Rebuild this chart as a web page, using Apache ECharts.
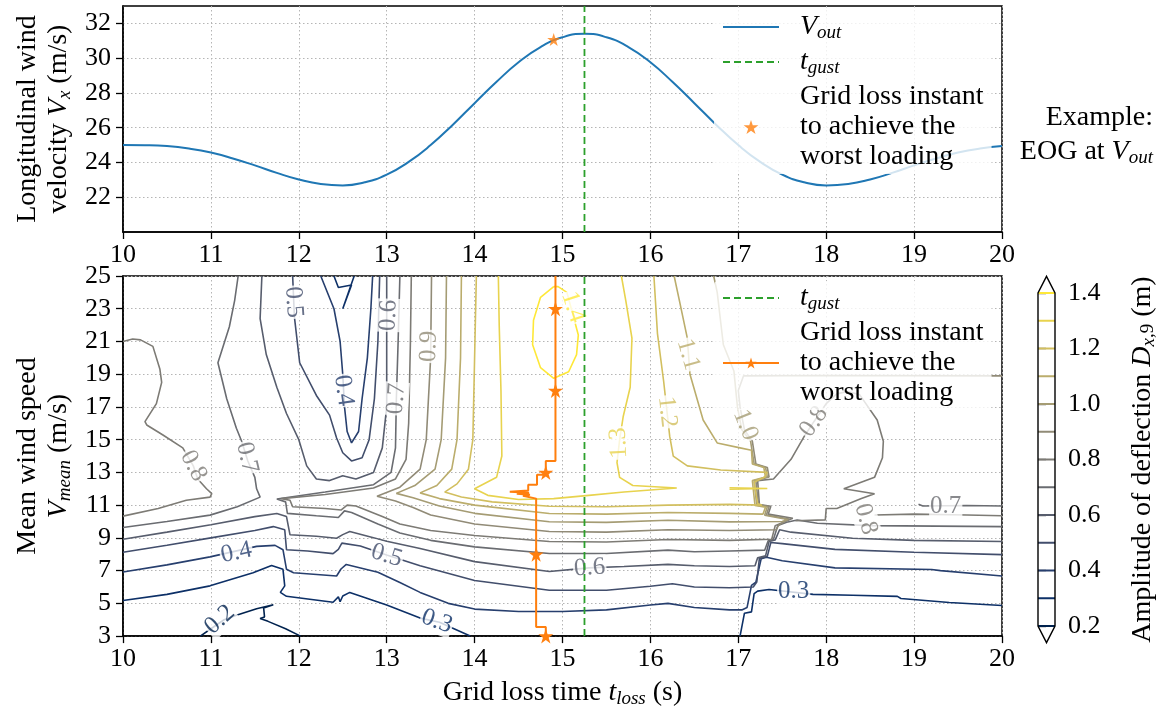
<!DOCTYPE html>
<html><head><meta charset="utf-8">
<script src="https://cdn.jsdelivr.net/npm/echarts@6/dist/echarts.min.js"></script>
<style>html,body{margin:0;padding:0;background:#fff;}#c{width:1170px;height:713px;}</style>
</head><body><div id="c"></div>
<script>
// ---------- DATA ----------
const tTime = [10,10.25,10.5,10.75,11,11.25,11.5,11.75,12,12.25,12.5,12.75,13,13.25,13.5,13.75,14,14.25,14.5,14.75,15,15.25,15.5,15.75,16,16.25,16.5,16.75,17,17.25,17.5,17.75,18,18.25,18.5,18.75,19,19.25,19.5,19.75,20];
const vOut = [25.0,24.99,24.94,24.80,24.57,24.23,23.83,23.40,23.02,22.76,22.68,22.86,23.30,24.03,25.0,26.16,27.41,28.64,29.76,30.64,31.20,31.40,31.20,30.64,29.76,28.64,27.41,26.16,25.0,24.03,23.30,22.86,22.68,22.76,23.02,23.40,23.83,24.23,24.57,24.80,24.94];
const topYTicks = [22,24,26,28,30,32];
const tGust = 15.25;
const worstTop = [[14.9, 31.07]];

const levels = [0.2,0.3,0.4,0.5,0.6,0.7,0.8,0.9,1.0,1.1,1.2,1.3,1.4];
const levelColors = ['#00224e','#0d3067','#273f6e','#424e6c','#575d6d','#6a6c71','#7d7b75','#918b77','#a59c74','#bbad6c','#d2bf5f','#e8d34e','#fee838'];

const L02a = [[10.88,3.0],[11.0,3.45],[11.15,4.0],[11.29,4.27],[11.52,4.67],[11.71,4.91],[11.6,4.72],[11.61,4.17],[11.56,4.07],[11.65,3.9],[11.85,3.45],[12.02,3.0]];
const L03a = [[10,5.17],[10.5,5.55],[10.99,6.07],[11.48,6.87],[11.69,7.32],[11.82,7.08],[11.84,6.07],[11.79,5.67],[11.86,5.43],[12.39,5.07],[12.45,5.4],[12.47,5.1],[12.5,5.45],[12.58,5.67],[13.0,4.9],[13.38,4.1],[13.6,3.85],[13.95,3.0]];
const L03b = [[17.02,3.0],[17.07,4.4],[17.15,4.48],[17.18,5.6],[17.22,5.75],[17.35,5.85],[17.85,5.55],[18.3,5.5],[18.81,5.43],[18.85,5.3],[19.4,5.05],[20,4.87]];
const L03c = [[12.4,25],[12.45,24.3],[12.6,24.45],[12.5,23.0],[12.63,25]];
const L04a = [[10,6.92],[10.5,7.35],[10.99,7.84],[11.52,8.48],[11.73,8.54],[11.82,8.28],[11.86,7.08],[11.94,6.87],[12.43,6.67],[12.48,7.1],[12.54,7.38],[12.9,6.9],[13.15,6.27],[13.38,5.67],[13.7,5.0],[14.0,4.65],[14.5,4.5],[15.0,4.5],[15.5,4.6],[16.0,4.9],[16.2,5.0],[16.5,4.75],[16.9,4.6],[17.04,4.6],[17.1,4.75],[17.15,6.1],[17.2,6.3],[17.26,7.72],[17.32,7.82],[17.5,7.6],[18.1,7.17],[19.2,7.07],[19.3,7.0],[20,6.67]];
const L04b = [[12.25,25],[12.4,23],[12.47,21],[12.5,19],[12.52,17],[12.55,15.5],[12.6,14.8],[12.68,15.5],[12.72,17.5],[12.78,20],[12.82,23],[12.84,25]];
const L05a = [[10,8.12],[10.5,8.55],[11.0,9.0],[11.5,9.45],[11.71,9.69],[11.84,9.5],[11.86,8.28],[12.1,8.2],[12.39,8.04],[12.45,8.3],[12.49,8.68],[12.7,8.5],[13.0,7.95],[13.38,7.3],[14.0,6.4],[14.85,5.8],[15.5,5.8],[16.0,6.05],[16.25,6.2],[16.5,6.0],[16.9,5.95],[17.17,6.0],[17.21,6.3],[17.24,7.75],[17.33,7.87],[17.37,8.72],[17.5,8.65],[18.1,8.3],[19.0,8.12],[20,7.98]];
const L05b = [[11.93,25],[11.95,22.5],[12.01,19.7],[12.2,17.7],[12.35,16.5],[12.43,15.1],[12.5,14.2],[12.6,13.7],[12.72,13.9],[12.8,15],[12.86,17.5],[12.9,21],[12.92,25]];
const L06a = [[10,8.92],[10.5,9.35],[11.0,9.8],[11.5,10.3],[11.75,10.49],[11.86,10.3],[11.9,9.19],[12.2,9.1],[12.43,8.98],[12.5,9.2],[12.58,9.39],[13.0,8.8],[13.38,8.35],[14.0,7.55],[14.85,6.95],[15.3,7.17],[15.7,7.25],[16.2,7.38],[16.5,7.3],[16.9,7.25],[17.19,7.3],[17.22,7.78],[17.31,7.9],[17.35,8.78],[17.42,8.88],[17.47,9.5],[17.6,9.35],[18.3,8.98],[19.0,8.85],[20,8.78]];
const L06b = [[11.58,25],[11.56,22.4],[11.63,20.2],[11.75,18.2],[11.86,16.6],[12.0,15.0],[12.09,13.4],[12.2,12.6],[12.35,12.5],[12.5,12.8],[12.65,12.6],[12.85,13.0],[12.95,14.5],[13.0,17],[13.0,21],[13.0,25]];
const L07a = [[10,9.63],[10.5,10.0],[10.99,10.39],[11.3,10.9],[11.56,11.49],[11.52,12.0],[11.5,12.7],[11.42,13.7],[11.35,14.9],[11.29,15.7],[11.18,17.5],[11.08,19.7],[11.21,21.9],[11.27,23.5],[11.31,25]];
const L07b = [[13.15,25],[13.13,21],[13.11,17.5],[13.1,14.5],[13.05,13.0],[12.85,12.25],[12.3,11.8],[11.75,11.38],[11.85,11.2],[11.87,10.5],[12.2,10.35],[12.45,10.25],[12.52,10.65],[12.6,10.55],[12.9,9.85],[13.15,9.3],[13.5,8.85],[14.0,8.45],[14.85,8.05],[15.5,8.05],[16.2,8.25],[16.5,8.15],[16.9,8.2],[17.3,8.25],[17.34,8.82],[17.4,8.92],[17.45,9.75],[17.55,9.95],[17.67,10.09],[17.9,9.89],[18.5,9.75],[20,9.69]];
const L07c = [[19.05,11.05],[19.1,10.95],[19.6,10.98],[20,10.95]];
const L08a = [[10,10.33],[10.4,10.8],[10.72,11.3],[10.99,11.49],[11.01,11.7],[10.95,12.0],[10.85,12.6],[10.8,13.4],[10.68,14.5],[10.45,15.3],[10.27,15.9],[10.25,16.1],[10.38,17.2],[10.44,18.5],[10.42,19.3],[10.34,20.7],[10.2,21.1],[10.11,21.15],[10,21.0]];
const L08b = [[13.28,25],[13.27,21],[13.25,16],[13.22,13.8],[13.1,12.6],[12.85,12.05],[12.3,11.65],[11.8,11.4],[11.9,11.3],[11.93,10.9],[12.3,10.8],[12.48,10.7],[12.55,11.0],[12.65,10.95],[12.95,10.3],[13.15,9.85],[13.5,9.45],[14.0,9.15],[14.85,8.78],[15.5,8.75],[16.2,8.9],[16.9,8.85],[17.38,8.92],[17.42,9.75],[17.62,10.2],[17.34,10.45],[17.37,10.93],[17.24,11.03],[17.22,12.5],[17.4,12.6],[17.6,13.8],[17.75,15.2],[17.86,16.1],[18.0,17.2],[18.12,17.8],[18.25,17.95],[18.38,17.75],[18.58,16.2],[18.65,14.9],[18.64,13.9],[18.55,12.7],[18.2,12.0],[18.55,11.7],[18.4,11.4],[18.12,10.8],[18.0,10.8],[17.99,10.1],[17.65,10.05]];
const L08c = [[18.55,10.4],[19.0,10.45],[19.6,10.4],[20,10.35]];
const L09 = [[13.51,25],[13.5,20],[13.45,15],[13.38,13.2],[13.15,12.1],[12.89,11.55],[13.1,11.25],[13.3,10.85],[13.5,10.4],[14.0,9.85],[14.85,9.39],[15.5,9.35],[16.2,9.5],[16.9,9.45],[17.43,9.5],[17.46,9.78],[17.58,10.15],[17.32,10.4],[17.35,10.92],[17.23,11.02],[17.2,12.5],[17.35,12.72],[17.33,13.3],[17.2,13.52],[17.16,14.9],[17.07,15.6],[17.02,17.0],[17.0,18.0],[17.06,18.9],[18.0,18.92],[20,18.9]];
const L10 = [[13.68,25],[13.67,20],[13.62,15],[13.55,13.2],[13.32,12.2],[13.11,11.72],[13.3,11.45],[13.6,10.95],[14.0,10.5],[14.85,9.99],[15.5,9.95],[16.2,10.08],[16.9,9.98],[17.5,10.0],[17.56,10.12],[17.3,10.38],[17.33,10.9],[17.21,11.0],[17.18,12.5],[17.33,12.72],[17.31,13.3],[17.18,13.52],[17.14,14.9],[17.04,15.6],[16.99,17.0],[16.95,19.2],[16.83,20.8],[16.76,24.0],[16.72,25]];
const L11 = [[13.85,25],[13.84,20],[13.8,15],[13.74,13.2],[13.57,12.2],[13.38,11.75],[13.6,11.4],[14.0,11.0],[14.85,10.49],[15.5,10.45],[16.2,10.55],[16.9,10.5],[17.28,10.45],[17.31,10.88],[17.19,10.98],[17.16,12.5],[17.31,12.72],[17.29,13.3],[17.16,13.52],[17.15,14.35],[17.02,14.5],[16.76,14.8],[16.6,16.2],[16.45,19.0],[16.42,21.2],[16.33,23.5],[16.27,25]];
const L12 = [[14.02,25],[14.0,20],[13.98,15],[13.93,13.2],[13.8,12.3],[13.66,11.8],[13.85,11.5],[14.2,11.2],[14.85,10.93],[15.5,10.9],[16.2,11.0],[16.9,11.05],[17.27,11.0],[17.22,11.1],[17.18,12.4],[17.3,12.72],[17.33,13.0],[16.8,13.15],[16.42,13.4],[16.26,14.0],[16.22,15.2],[16.15,18.6],[16.08,21.5],[16.04,25]];
const L13a = [[14.27,25],[14.28,22],[14.3,18],[14.31,14],[14.25,12.7],[14.0,12.0],[14.15,11.6],[14.5,11.35],[14.9,11.4],[15.3,11.6],[15.7,11.8],[16.3,12.05],[15.8,12.2],[15.65,12.7],[15.62,13.6],[15.65,15.0],[15.69,16.4],[15.77,18.2],[15.79,21.2],[15.72,23.5],[15.67,25]];
const L13b = [[16.9,12.06],[17.33,12.02],[16.9,11.98]];
const L14 = [[14.9,24.35],[14.75,23.7],[14.67,22.3],[14.66,20.8],[14.75,19.4],[14.9,18.75],[15.07,19.15],[15.16,20.2],[15.18,21.4],[15.12,22.6],[15.05,24.0],[14.95,24.35],[14.9,24.35]];

const contourSegs = [
  [0.2,L02a],[0.3,L03a],[0.3,L03b],[0.3,L03c],[0.4,L04a],[0.4,L04b],[0.5,L05a],[0.5,L05b],
  [0.6,L06a],[0.6,L06b],[0.7,L07a],[0.7,L07b],[0.7,L07c],[0.8,L08a],[0.8,L08b],[0.8,L08c],
  [0.9,L09],[1.0,L10],[1.1,L11],[1.2,L12],[1.3,L13a],[1.3,L13b],[1.4,L14]
];
// [t, V, text, rotation, level]
const contourLabels = [
  [11.1,4.0,'0.2',42,0.2],[13.57,3.9,'0.3',-20,0.3],[17.63,5.72,'0.3',0,0.3],
  [11.29,8.1,'0.4',12,0.4],[12.51,18.0,'0.4',-82,0.4],[13.0,7.92,'0.5',-17,0.5],
  [11.94,23.4,'0.5',-86,0.5],[15.31,7.17,'0.6',4,0.6],[13.02,22.6,'0.6',88,0.6],
  [11.41,13.9,'0.7',-77,0.7],[13.11,17.5,'0.7',86,0.7],[19.36,10.9,'0.7',0,0.7],
  [10.8,13.4,'0.8',-62,0.8],[17.86,16.1,'0.8',55,0.8],[18.45,10.15,'0.8',-75,0.8],
  [13.48,20.7,'0.9',88,0.9],[17.08,15.9,'1.0',-68,1.0],[16.43,20.2,'1.1',-74,1.1],
  [16.19,16.7,'1.2',-84,1.2],[15.64,14.8,'1.3',93,1.3],[15.12,23.1,'1.4',-72,1.4]
];
const gridLossPath = [[14.81,3.0],[14.81,3.56],[14.70,3.56],[14.70,8.0],[14.70,11.4],[14.72,11.5],[14.55,11.57],[14.63,11.63],[14.48,11.7],[14.62,11.76],[14.4,11.82],[14.61,11.9],[14.61,12.25],[14.71,12.25],[14.71,12.85],[14.81,12.85],[14.81,13.0],[14.81,13.7],[14.92,13.7],[14.92,18.0],[14.92,23.0],[14.92,25.0]];
const starV = [3,8,13,18,23];
const vMeanRange = [3, 25];
const topVRange = [20, 33];

// ---------- BUILD ----------
const FONT = "'Liberation Serif','DejaVu Serif',serif";
const TXT = 28;
const Y0 = vMeanRange[0];
const STAR = 'path://M0,-1L0.2245,-0.309L0.951,-0.309L0.363,0.118L0.588,0.809L0,0.382L-0.588,0.809L-0.363,0.118L-0.951,-0.309L-0.2245,-0.309Z';
const colorOf = lev => levelColors[Math.round((lev - levels[0]) * 10)];
const sh = pts => pts.map(p => [p[0], p[1] - Y0]);
const RICH = {
  i: {fontStyle:'italic', fontFamily:FONT, fontSize:TXT},
  s: {fontStyle:'italic', fontFamily:FONT, fontSize:19, verticalAlign:'bottom', lineHeight:14},
  s2: {fontFamily:FONT, fontSize:19, verticalAlign:'bottom', lineHeight:14},
  sp: {width:16}
};
const LEG = {
  vout: '{sp| }{i|V}{s|out}',
  gust1: '{sp| }{i|t}{s|gust}',
  loss1: '{sp| }Grid loss instant\n{sp| }to achieve the\n{sp| }worst loading',
  gust2: '{sp| }{i|t}{s|gust}',
  loss2: '{sp| }Grid loss instant\n{sp| }to achieve the\n{sp| }worst loading'
};
const axisLine = {show:true, lineStyle:{color:'#000', width:1.5}};
const axisTick = {show:true, inside:false, length:7, lineStyle:{color:'#000', width:1.3}};
const splitLine = {show:true, lineStyle:{type:[1.5,2.5], color:'#b5b5b5', width:1}};
const lblStyle = {fontFamily:FONT, fontSize:26, color:'#000'};
const nameStyle = {fontFamily:FONT, fontSize:TXT, color:'#000', lineHeight:31, rich:RICH};
const legText = {fontFamily:FONT, fontSize:TXT, lineHeight:30, color:'#000', rich:RICH};
const hideSym = {opacity:0};

const series = [];
series.push({type:'line', name:'vout', xAxisIndex:0, yAxisIndex:0, data:tTime.map((t,i)=>[t,vOut[i]]),
  symbol:'none', smooth:true, lineStyle:{color:'#1f77b4', width:2}, itemStyle:{color:'#1f77b4'}, z:3});
series.push({type:'line', name:'gust1', xAxisIndex:0, yAxisIndex:0, data:[[tGust,topVRange[0]],[tGust,topVRange[1]]],
  symbol:'none', lineStyle:{color:'#2ca02c', width:1.8, type:[7,4]}, itemStyle:{color:'#2ca02c'}, z:3});
series.push({type:'scatter', name:'loss1', xAxisIndex:0, yAxisIndex:0, data:worstTop, symbol:STAR, symbolSize:13,
  itemStyle:{color:'#ff7f0e'}, z:4});

contourSegs.forEach(([lev, pts]) => {
  series.push({type:'line', xAxisIndex:1, yAxisIndex:1, data:sh(pts), symbol:'none', silent:true,
    lineStyle:{color:colorOf(lev), width:1.6}, itemStyle:{color:colorOf(lev)}, z:2});
});
series.push({type:'scatter', xAxisIndex:1, yAxisIndex:1, silent:true, symbolSize:1, z:3,
  itemStyle:{color:'rgba(0,0,0,0)'},
  data: contourLabels.map(l => ({value:[l[0], l[1]-Y0], name:l[2],
    label:{rotate:l[3], color:colorOf(l[4])}})),
  label:{show:true, position:'inside', formatter:'{b}', fontFamily:FONT, fontSize:25,
    backgroundColor:'#fff', padding:[0,1]}
});
series.push({type:'line', name:'loss2', xAxisIndex:1, yAxisIndex:1, symbol:STAR, symbolSize:15, showSymbol:true,
  data: gridLossPath.map(p => ({value:[p[0], p[1]-Y0], symbol: starV.indexOf(p[1]) >= 0 ? STAR : 'none'})),
  lineStyle:{color:'#ff7f0e', width:2}, itemStyle:{color:'#ff7f0e'}, z:5});
series.push({type:'line', name:'gust2', xAxisIndex:1, yAxisIndex:1,
  data:[[tGust,vMeanRange[0]-Y0],[tGust,vMeanRange[1]-Y0]],
  symbol:'none', lineStyle:{color:'#2ca02c', width:1.8, type:[7,4]}, itemStyle:{color:'#2ca02c'}, z:5});

// colorbar
series.push({type:'custom', xAxisIndex:2, yAxisIndex:2, silent:true, clip:false,
  data: levels.map(l => [0.5, l]),
  renderItem: (params, api) => {
    const v = api.value(1);
    const a = api.coord([0, v]), b = api.coord([1, v]);
    return {type:'line', shape:{x1:a[0], y1:a[1], x2:b[0], y2:b[1]}, style:{stroke:colorOf(v), lineWidth:2}};
  }});
series.push({type:'custom', xAxisIndex:2, yAxisIndex:2, silent:true, clip:false,
  data: [[0.5, levels[6]]],
  renderItem: (params, api) => {
    const a = api.coord([0, levels[levels.length-1]]), b = api.coord([1, levels[0]]);
    const x0 = a[0], x1 = b[0], yT = a[1], yB = b[1], ext = 0.05*(yB-yT), xm = (x0+x1)/2;
    return {type:'polygon', shape:{points:[[x0,yB],[x0,yT],[xm,yT-ext],[x1,yT],[x1,yB],[xm,yB+ext]]},
      style:{fill:'none', stroke:'#000', lineWidth:1.4}};
  }});

const option = {
  animation:false,
  backgroundColor:'#fff',
  grid:[
    {left:123, right:168, top:6, height:226, show:true, borderColor:'#000', borderWidth:1.5},
    {left:123, right:168, top:276, height:365, show:true, borderColor:'#000', borderWidth:1.5},
    {left:1038, width:17, top:293, height:333, show:false}
  ],
  xAxis:[
    {gridIndex:0, type:'value', min:10, max:20, interval:1, axisLine, axisTick, splitLine,
      axisLabel:{...lblStyle, margin:10}},
    {gridIndex:1, type:'value', min:10, max:20, interval:1, axisLine, axisTick, splitLine,
      axisLabel:{...lblStyle, margin:10},
      name:'Grid loss time {i|t}{s|loss} (s)', nameLocation:'middle', nameGap:35, nameTextStyle:nameStyle},
    {gridIndex:2, type:'value', min:0, max:1, show:false}
  ],
  yAxis:[
    {gridIndex:0, type:'value', min:topVRange[0], max:topVRange[1], interval:2, axisLine,
      axisTick:{...axisTick, customValues:topYTicks}, splitLine,
      axisLabel:{...lblStyle, margin:12, customValues:topYTicks},
      name:'Longitudinal wind\nvelocity {i|V}{s|x} (m/s)', nameLocation:'middle', nameRotate:90, nameGap:46,
      nameTextStyle:nameStyle},
    {gridIndex:1, type:'value', min:0, max:vMeanRange[1]-Y0, interval:2, axisLine, axisTick, splitLine,
      axisLabel:{...lblStyle, margin:12, formatter: v => String(v + Y0)},
      name:'Mean wind speed\n{i|V}{s|mean} (m/s)', nameLocation:'middle', nameRotate:90, nameGap:46,
      nameTextStyle:nameStyle},
    {gridIndex:2, type:'value', position:'right', min:levels[0], max:levels[levels.length-1], interval:0.2,
      axisLine:{show:false}, axisTick:{show:true, inside:false, length:8, lineStyle:{color:'#000', width:1.3}},
      splitLine:{show:false},
      axisLabel:{...lblStyle, margin:13, formatter: v => v.toFixed(1)},
      name:'Amplitude of deflection {i|D}{s|x}{s2|,9} (m)', nameLocation:'middle', nameRotate:90, nameGap:72,
      nameTextStyle:nameStyle}
  ],
  legend:[
    {data:[{name:'vout', itemStyle:hideSym},{name:'gust1', itemStyle:hideSym},'loss1'], orient:'vertical', left:714, top:10,
      padding:[2,8,2,8], itemGap:5, itemWidth:56, itemHeight:14, backgroundColor:'rgba(255,255,255,0.8)', borderRadius:4,
      selectedMode:false, formatter: n => LEG[n], textStyle:legText},
    {data:[{name:'gust2', itemStyle:hideSym},'loss2'], orient:'vertical', left:714, top:281,
      padding:[2,8,2,8], itemGap:5, itemWidth:56, itemHeight:14, backgroundColor:'rgba(255,255,255,0.8)', borderRadius:4,
      selectedMode:false, formatter: n => LEG[n], textStyle:legText}
  ],
  graphic:[
    {type:'text', right:17, top:104, style:{text:'Example:', fontFamily:FONT, fontSize:TXT, fill:'#000', textAlign:'right'}},
    {type:'text', right:17, top:137, style:{text:'EOG at {i|V}{s|out}', fontFamily:FONT, fontSize:TXT, fill:'#000', lineHeight:30, rich:RICH}}
  ],
  series
};
const chart = echarts.init(document.getElementById('c'), null, {renderer:'canvas'});
chart.setOption(option);
</script></body></html>
